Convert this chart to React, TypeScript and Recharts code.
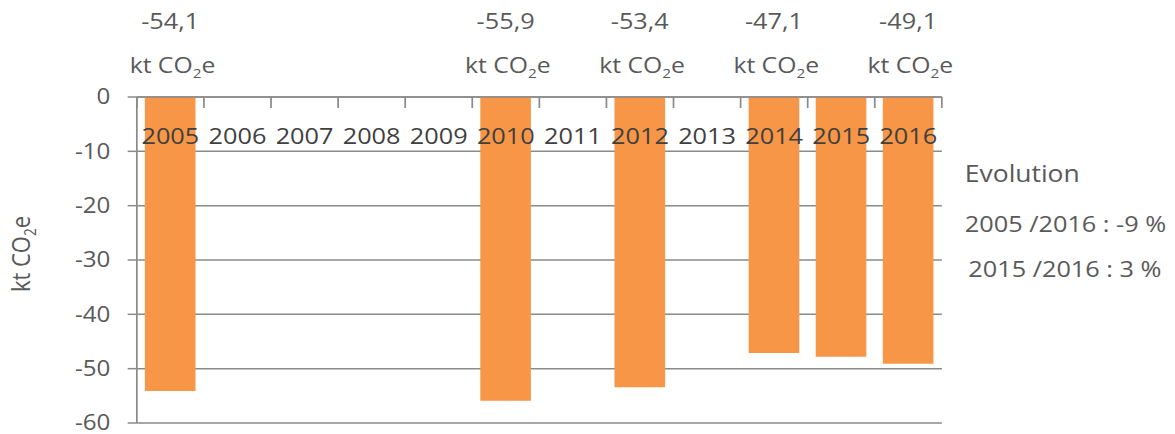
import { Bar, BarChart, CartesianGrid, LabelList, XAxis, YAxis } from 'recharts'

const years = ['2005', '2006', '2007', '2008', '2009', '2010', '2011', '2012', '2013', '2014', '2015', '2016']
const emissions = [-54.1, null, null, null, null, -55.9, null, -53.4, null, -47.1, -47.8, -49.1]
const labelledYears = ['2005', '2010', '2012', '2014', '2016']
const yTicks = [0, -10, -20, -30, -40, -50, -60]
const evolutionTitle = 'Evolution'
const evolutionLines = ['2005 /2016 : -9 %', '2015 /2016 : 3 %']

// the source picture is stretched sideways, so we draw narrower and scale x
const STRETCH = 1.15
const W = 1022
const H = 434
const FONT = '"Open Sans", sans-serif'
const GRAY = '#595959'
const LINE = '#8a8a8a'
const ORANGE = '#F79646'
const TICK_LEN = 11
const TICK_GAP = 20

const fmt = (v: number) => v.toFixed(1).replace('.', ',')

const data = years.map((year, i) => ({
  year,
  value: emissions[i],
  label: labelledYears.includes(year) && emissions[i] != null ? fmt(emissions[i] as number) : null,
}))

function Unit({ x, y, size }: { x: number; y: number; size: number }) {
  return (
    <text x={x} y={y} textAnchor="middle" fill={GRAY} fontSize={size} fontFamily={FONT}>
      kt CO
      <tspan dy={5} fontSize={size * 0.62}>2</tspan>
      <tspan dy={-5}>e</tspan>
    </text>
  )
}

// year label + Excel-style tick marks between the categories
const YearTick = (props: any) => {
  const { x, y, payload, index, visibleTicksCount } = props
  const half = payload.offset ?? 29.17
  const y1 = y - TICK_GAP - TICK_LEN
  const y2 = y - TICK_GAP
  const last = index === visibleTicksCount - 1
  return (
    <g>
      <line x1={x - half} x2={x - half} y1={y1} y2={y2} stroke={LINE} strokeWidth={1.5} />
      {last && <line x1={x + half} x2={x + half} y1={y1} y2={y2} stroke={LINE} strokeWidth={1.5} />}
      <text x={x} y={y} dy="0.71em" textAnchor="middle" fill="#3f3f3f" fontSize={22} fontFamily={FONT}>
        {payload.value}
      </text>
    </g>
  )
}

const renderTopLabel = (props: any) => {
  const { x, width, value } = props
  if (value == null) return null
  const cx = Number(x) + Number(width) / 2
  return (
    <g>
      <text x={cx} y={29} textAnchor="middle" fill={GRAY} fontSize={22} fontFamily={FONT}>
        {value}
      </text>
      <Unit x={cx + 2} y={73} size={21.5} />
    </g>
  )
}

const renderYLabel = (props: any) => {
  const vb = props.viewBox
  const cx = vb.x + 18
  const cy = vb.y + vb.height / 2 - 6
  return (
    <g transform={`rotate(-90, ${cx}, ${cy})`}>
      <Unit x={cx} y={cy + 8} size={22} />
    </g>
  )
}

export default function App() {
  return (
    <div
      style={{
        position: 'absolute',
        left: 0,
        top: 0,
        width: W,
        height: H,
        background: '#fff',
        transform: `scaleX(${STRETCH})`,
        transformOrigin: '0 0',
      }}
    >
      <BarChart width={W} height={H} data={data} margin={{ top: 97, right: 203, bottom: 11, left: 0 }}>
        <CartesianGrid vertical={false} stroke={LINE} strokeWidth={1.5} />
        <YAxis
          domain={[-60, 0]}
          ticks={yTicks}
          interval={0}
          width={119}
          tickSize={8}
          tickMargin={15}
          axisLine={{ stroke: LINE, strokeWidth: 1.5 }}
          tickLine={{ stroke: LINE, strokeWidth: 1.5 }}
          tick={{ fill: GRAY, fontSize: 21, fontFamily: FONT }}
          label={{ content: renderYLabel }}
        />
        <Bar dataKey="value" fill={ORANGE} barSize={44} isAnimationActive={false}>
          <LabelList dataKey="label" content={renderTopLabel} />
        </Bar>
        <XAxis
          dataKey="year"
          orientation="top"
          mirror
          height={1}
          interval={0}
          axisLine={{ stroke: LINE, strokeWidth: 1.5 }}
          tickLine={false}
          tickSize={TICK_LEN}
          tickMargin={TICK_GAP}
          tick={<YearTick />}
        />
      </BarChart>
      <svg width={W} height={H} style={{ position: 'absolute', left: 0, top: 0, pointerEvents: 'none' }}>
        <text x={839} y={182} fill={GRAY} fontSize={23} fontFamily={FONT}>
          {evolutionTitle}
        </text>
        {evolutionLines.map((line, i) => (
          <text key={line} x={839 + i * 3} y={232 + i * 45} fill={GRAY} fontSize={22} fontFamily={FONT}>
            {line}
          </text>
        ))}
      </svg>
    </div>
  )
}
